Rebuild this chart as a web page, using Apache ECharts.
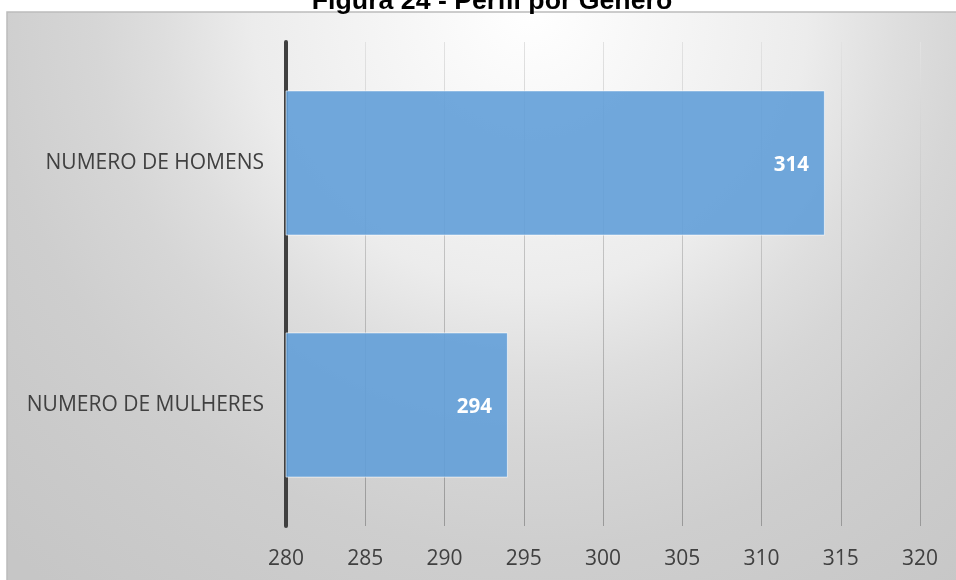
<!DOCTYPE html>
<html>
<head>
<meta charset="utf-8">
<script src="https://cdn.jsdelivr.net/npm/echarts@6/dist/echarts.min.js"></script>
<style>
  html, body { margin: 0; padding: 0; background: #fff; }
  #main { width: 956px; height: 580px; }
</style>
</head>
<body>
<div id="main"></div>
<script>
const categories = ["NUMERO DE HOMENS", "NUMERO DE MULHERES"];
const values = [314, 294];
const xTicks = [280, 285, 290, 295, 300, 305, 310, 315, 320];

var myChart = echarts.init(document.getElementById("main"));

const options = {
  backgroundColor: "#fff",
  animation: false,
  title: {
    text: "Figura 24 - Perfil por Gênero",
    left: 487,
    textAlign: "center",
    top: -17,
    textStyle: { fontFamily: "Liberation Sans", fontWeight: "bold", fontSize: 26.7, color: "#000" }
  },
  graphic: [
    {
      type: "rect",
      z: -10,
      shape: { x: 7, y: 12, width: 960, height: 580 },
      style: {
        fill: {
          type: "radial", x: 530, y: 10, r: 750, global: true,
          colorStops: [
            { offset: 0, color: "#ffffff" },
            { offset: 0.37, color: "#ececec" },
            { offset: 0.49, color: "#dedede" },
            { offset: 0.58, color: "#d6d6d6" },
            { offset: 0.72, color: "#cecece" },
            { offset: 0.85, color: "#cacaca" },
            { offset: 1, color: "#c6c6c6" }
          ]
        },
        stroke: "#bcbcbc",
        lineWidth: 1.5
      }
    }
  ],
  grid: { left: 286, right: 36, top: 42, bottom: 54 },
  xAxis: {
    type: "value",
    min: xTicks[0],
    max: xTicks[xTicks.length - 1],
    interval: 5,
    axisLine: { show: false },
    axisTick: { show: false },
    axisLabel: { margin: 23, fontFamily: "Open Sans", fontSize: 21, color: "#404040" },
    splitLine: {
      show: true,
      lineStyle: {
        width: 1,
        color: {
          type: "linear", x: 0, y: 42, x2: 0, y2: 526, global: true,
          colorStops: [
            { offset: 0, color: "#e2e2e2" },
            { offset: 0.5, color: "#bdbdbd" },
            { offset: 1, color: "#999999" }
          ]
        }
      }
    }
  },
  yAxis: {
    type: "category",
    inverse: true,
    data: categories,
    axisLine: { show: true, lineStyle: { color: "#404040", width: 4 } },
    axisTick: { show: false },
    axisLabel: { margin: 22, fontFamily: "Open Sans", fontSize: 21, color: "#404040" }
  },
  series: [
    {
      type: "bar",
      data: values,
      barCategoryGap: "40%",
      itemStyle: {
        color: "rgba(98,158,216,0.9)",
        borderColor: "rgba(255,255,255,0.6)",
        borderWidth: 1
      },
      label: {
        show: true,
        position: "insideRight",
        distance: 16,
        offset: [0, 2],
        color: "#fff",
        fontFamily: "Open Sans",
        fontWeight: "bold",
        fontSize: 20.5
      }
    }
  ]
};

myChart.setOption(options);
window.onresize = function() {
  myChart.resize();
};
</script>
</body>
</html>
